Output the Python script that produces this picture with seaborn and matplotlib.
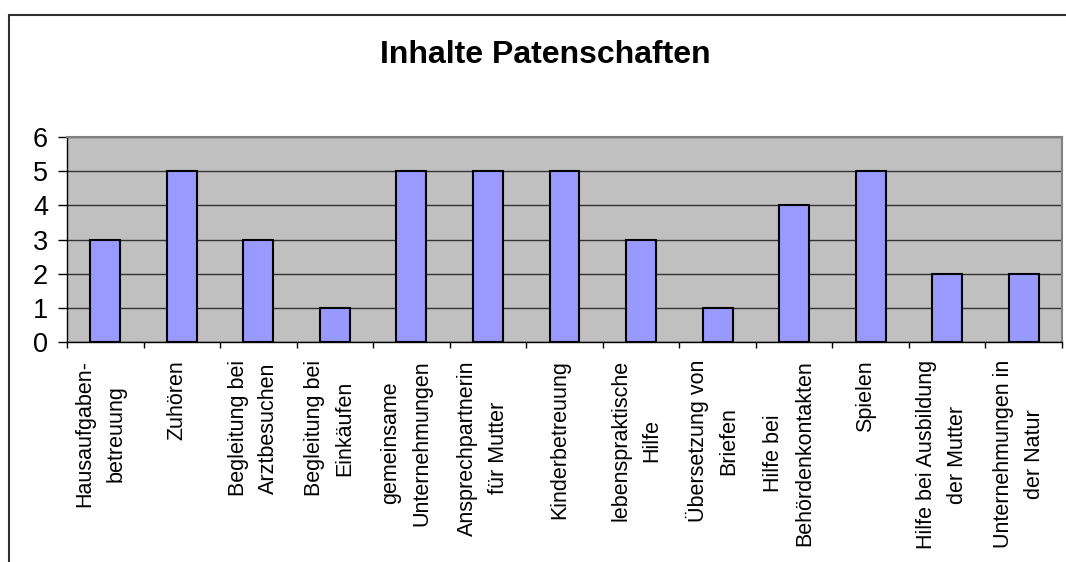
import matplotlib
matplotlib.use("Agg")
import matplotlib.pyplot as plt
import matplotlib.transforms as mtransforms
from matplotlib.patches import Rectangle
import numpy as np
import pandas as pd
import seaborn as sns

# Daten
categories = [
    "Hausaufgaben-\nbetreuung",
    "Zuhören",
    "Begleitung bei\nArztbesuchen",
    "Begleitung bei\nEinkäufen",
    "gemeinsame\nUnternehmungen",
    "Ansprechpartnerin\nfür Mutter",
    "Kinderbetreuung",
    "lebenspraktische\nHilfe",
    "Übersetzung von\nBriefen",
    "Hilfe bei\nBehördenkontakten",
    "Spielen",
    "Hilfe bei Ausbildung\nder Mutter",
    "Unternehmungen in\nder Natur",
]
counts = [3, 5, 3, 1, 5, 5, 5, 3, 1, 4, 5, 2, 2]
y_ticks = [0, 1, 2, 3, 4, 5, 6]
title = "Inhalte Patenschaften"

df = pd.DataFrame({"Inhalt": categories, "Anzahl": counts})

sns.set_style("white")
plt.rcParams["font.family"] = ["Liberation Sans", "DejaVu Sans"]
plt.rcParams["text.color"] = "black"
plt.rcParams["xtick.color"] = "black"
plt.rcParams["ytick.color"] = "black"
plt.rcParams["xtick.labelcolor"] = "black"
plt.rcParams["ytick.labelcolor"] = "black"

fig = plt.figure(figsize=(10.66, 5.62), dpi=100)
ax = fig.add_axes([67 / 1066, 1 - 342 / 562, (1062 - 67) / 1066, (342 - 137) / 562])
ax.set_facecolor("#c0c0c0")

sns.barplot(
    data=df, x="Inhalt", y="Anzahl", color="#9999ff", saturation=1,
    width=0.39, edgecolor="black", linewidth=1.5, ax=ax, zorder=3,
)

ax.set_xlim(-0.5, len(categories) - 0.5)
ax.set_ylim(0, 6)
ax.set_yticks(y_ticks)
ax.yaxis.grid(True, color="#333333", linewidth=1.0, zorder=1)
ax.set_axisbelow(True)
ax.set_xlabel("")
ax.set_ylabel("")

for side in ["top", "right"]:
    ax.spines[side].set_visible(True)
    ax.spines[side].set_color("#808080")
    ax.spines[side].set_linewidth(1.5)
for side in ["left", "bottom"]:
    ax.spines[side].set_color("black")
    ax.spines[side].set_linewidth(1.0)

ax.tick_params(axis="y", direction="out", length=6.5, width=1,
               labelsize=19.5, pad=7, left=True)
ax.set_xticks(np.arange(len(categories)))
ax.set_xticklabels(categories, rotation=90, ha="center", va="top",
                   multialignment="center", fontsize=15.5, linespacing=1.6)
ax.tick_params(axis="x", which="major", length=0, pad=13)
ax.set_xticks(np.arange(-0.5, len(categories) + 0.5, 1), minor=True)
ax.tick_params(axis="x", which="minor", direction="out", length=4, width=1,
               bottom=True)

offset = mtransforms.ScaledTranslation(-5 / 100, 0, fig.dpi_scale_trans)
for lbl in ax.get_xticklabels():
    lbl.set_transform(lbl.get_transform() + offset)

fig.text(545 / 1066, 1 - 55 / 562, title, ha="center", va="center",
         fontsize=23, fontweight="bold", color="black")

# Rahmen des Diagramms
fig.add_artist(Rectangle((9 / 1066, -0.1), 1.2, 0.1 + 1 - 15 / 562,
                         transform=fig.transFigure, fill=False,
                         edgecolor="#303030", linewidth=1.5))

fig.savefig("out.png", dpi=100)
